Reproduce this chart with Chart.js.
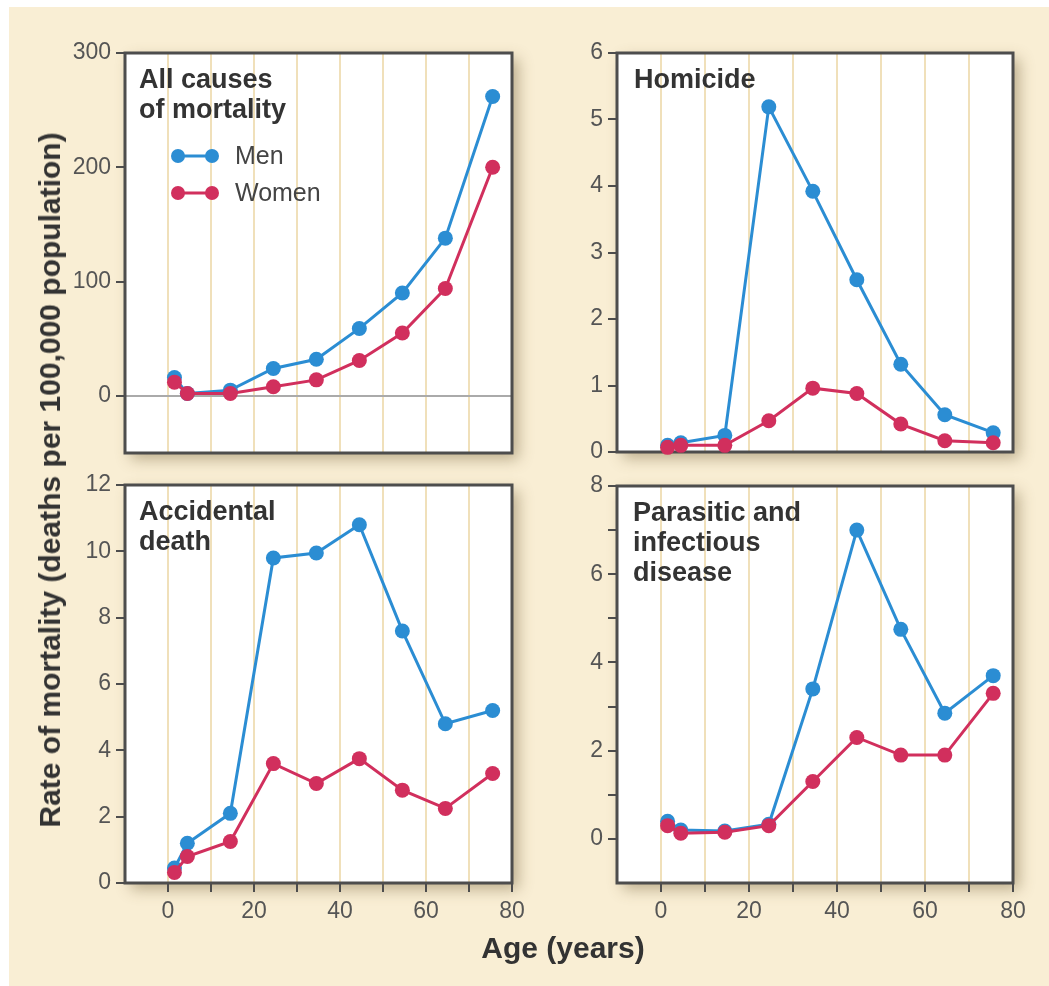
<!DOCTYPE html>
<html>
<head>
<meta charset="utf-8">
<script src="https://cdn.jsdelivr.net/npm/chart.js@4"></script>
<style>
  body { margin: 0; background: #ffffff; width: 1049px; height: 986px; position: relative; overflow: hidden; font-family: 'Liberation Sans', Arial, sans-serif; }
  #backdrop { position: absolute; left: 9px; top: 7px; width: 1040px; height: 979px; background: #f9eed4; }
  canvas { position: absolute; }
  .axis-title { position: absolute; font-weight: bold; font-size: 30px; color: #333; white-space: nowrap; }
</style>
</head>
<body>
<div id="backdrop"></div>
<canvas id="chart-all-causes" width="477" height="495" style="left:60px; top:28px;"></canvas>
<canvas id="chart-homicide" width="486" height="494" style="left:552px; top:28px;"></canvas>
<canvas id="chart-accidental" width="477" height="493" style="left:60px; top:460px;"></canvas>
<canvas id="chart-infectious" width="486" height="492" style="left:552px; top:461px;"></canvas>
<div class="axis-title" style="left:563px; top:948px; transform: translate(-50%, -50%);">Age (years)</div>
<div class="axis-title" style="left:50px; top:480px; transform: translate(-50%, -50%) rotate(-90deg);">Rate of mortality (deaths per 100,000 population)</div>

<script>
// age group midpoints (years)
const ages = [1.5, 4.5, 14.5, 24.5, 34.5, 44.5, 54.5, 64.5, 75.5];
const xTicks = [0, 10, 20, 30, 40, 50, 60, 70, 80];
const xLabels = [0, 20, 40, 60, 80];

const allCausesMen = [16, 2, 5, 24, 32, 59, 90, 138, 262];
const allCausesWomen = [12, 2, 2, 8, 14, 31, 55, 94, 200];
const allCausesTicks = [0, 100, 200, 300];

const homicideMen = [0.1, 0.14, 0.25, 5.19, 3.92, 2.59, 1.32, 0.56, 0.29];
const homicideWomen = [0.07, 0.1, 0.1, 0.47, 0.96, 0.88, 0.42, 0.17, 0.14];
const homicideTicks = [0, 1, 2, 3, 4, 5, 6];

const accidentalMen = [0.45, 1.2, 2.1, 9.8, 9.95, 10.8, 7.6, 4.8, 5.2];
const accidentalWomen = [0.32, 0.8, 1.25, 3.6, 3.0, 3.75, 2.8, 2.25, 3.3];
const accidentalTicks = [0, 2, 4, 6, 8, 10, 12];

const infectiousMen = [0.4, 0.2, 0.18, 0.33, 3.4, 7.0, 4.75, 2.85, 3.7];
const infectiousWomen = [0.3, 0.13, 0.15, 0.3, 1.3, 2.3, 1.9, 1.9, 3.3];
const infectiousTicks = [0, 1, 2, 3, 4, 5, 6, 7, 8];
const infectiousLabels = [0, 2, 4, 6, 8];

const MEN_COLOR = '#2b8dd3';
const WOMEN_COLOR = '#d12f5d';
const FONT = "'Liberation Sans', Arial, sans-serif";

// white plot box with a soft drop shadow, dark frame, panel heading and optional key
const panelDecor = {
    id: 'panelDecor',
    beforeDraw(chart) {
        const { ctx, chartArea: a } = chart;
        ctx.save();
        ctx.shadowColor = 'rgba(110, 90, 50, 0.45)';
        ctx.shadowBlur = 14;
        ctx.shadowOffsetX = 6;
        ctx.shadowOffsetY = 6;
        ctx.fillStyle = '#ffffff';
        ctx.fillRect(a.left, a.top, a.width, a.height);
        ctx.restore();
    },
    beforeDatasetsDraw(chart) {
        const { ctx, chartArea: a } = chart;
        ctx.save();
        ctx.strokeStyle = '#4d4d4d';
        ctx.lineWidth = 3;
        ctx.strokeRect(a.left, a.top, a.width, a.height);
        ctx.restore();
    },
    afterDraw(chart, args, opts) {
        const { ctx, chartArea: a } = chart;
        ctx.save();
        ctx.fillStyle = '#333333';
        ctx.font = 'bold 27px ' + FONT;
        ctx.textBaseline = 'alphabetic';
        (opts.lines || []).forEach((line, i) => {
            ctx.fillText(line, a.left + opts.indent, a.top + 35 + i * 30);
        });

        if (opts.showKey) {
            chart.data.datasets.forEach((ds, i) => {
                const y = a.top + 103 + i * 37;
                const x1 = a.left + 53;
                const x2 = a.left + 87;
                ctx.strokeStyle = ds.borderColor;
                ctx.fillStyle = ds.borderColor;
                ctx.lineWidth = 3;
                ctx.beginPath();
                ctx.moveTo(x1, y);
                ctx.lineTo(x2, y);
                ctx.stroke();
                [x1, x2].forEach(x => {
                    ctx.beginPath();
                    ctx.arc(x, y, 7, 0, Math.PI * 2);
                    ctx.fill();
                });
                ctx.fillStyle = '#444444';
                ctx.font = '25px ' + FONT;
                ctx.textBaseline = 'middle';
                ctx.fillText(ds.label, a.left + 110, y + 1);
            });
        }
        ctx.restore();
    }
};

function toPoints(values) {
    return values.map((v, i) => ({ x: ages[i], y: v }));
}

function createPanelChart(canvasId, settings) {
    const ctx = document.getElementById(canvasId).getContext('2d');
    return new Chart(ctx, {
        type: 'line',
        data: {
            datasets: [{
                label: 'Men',
                data: toPoints(settings.men),
                borderColor: MEN_COLOR,
                backgroundColor: MEN_COLOR,
                pointBackgroundColor: MEN_COLOR,
                borderWidth: 3,
                pointRadius: 7.5,
                pointBorderWidth: 0,
                order: 2,
                clip: false
            }, {
                label: 'Women',
                data: toPoints(settings.women),
                borderColor: WOMEN_COLOR,
                backgroundColor: WOMEN_COLOR,
                pointBackgroundColor: WOMEN_COLOR,
                borderWidth: 3,
                pointRadius: 7.5,
                pointBorderWidth: 0,
                order: 1,
                clip: false
            }]
        },
        options: {
            responsive: false,
            animation: false,
            devicePixelRatio: 1,
            layout: { padding: { top: 25, right: 25, left: 0, bottom: 0 } },
            plugins: {
                legend: { display: false },
                tooltip: { enabled: false },
                panelDecor: {
                    lines: settings.title,
                    indent: settings.indent,
                    showKey: settings.showKey || false
                }
            },
            scales: {
                x: {
                    type: 'linear',
                    min: -10,
                    max: 80,
                    afterBuildTicks: scale => { scale.ticks = xTicks.map(v => ({ value: v })); },
                    afterFit: scale => { scale.height = 70; },
                    ticks: {
                        display: settings.showAges,
                        autoSkip: false,
                        maxRotation: 0,
                        padding: 6,
                        color: '#555555',
                        font: { family: FONT, size: 23 },
                        callback: value => xLabels.includes(value) ? value : ''
                    },
                    grid: {
                        color: c => (c.tick && c.tick.value < 80) ? '#f0e0ba' : 'transparent',
                        lineWidth: 2,
                        drawTicks: settings.showAges,
                        tickLength: 9,
                        tickColor: '#4d4d4d',
                        tickWidth: 2
                    },
                    border: { display: false }
                },
                y: {
                    type: 'linear',
                    min: settings.yMin,
                    max: settings.yMax,
                    afterBuildTicks: scale => { scale.ticks = settings.yTicks.map(v => ({ value: v })); },
                    afterFit: scale => { scale.width = 65; },
                    ticks: {
                        autoSkip: false,
                        padding: 5,
                        color: '#555555',
                        font: { family: FONT, size: 23 },
                        callback: value => (settings.yLabels || settings.yTicks).includes(value) ? value : ''
                    },
                    grid: {
                        color: c => (settings.zeroLine && c.tick && c.tick.value === 0) ? '#aaaaaa' : 'transparent',
                        lineWidth: 2,
                        tickLength: 9,
                        tickColor: '#4d4d4d',
                        tickWidth: 2
                    },
                    border: { display: false }
                }
            }
        },
        plugins: [panelDecor]
    });
}

document.addEventListener('DOMContentLoaded', () => {
    createPanelChart('chart-all-causes', {
        men: allCausesMen,
        women: allCausesWomen,
        yMin: -50,
        yMax: 300,
        yTicks: allCausesTicks,
        zeroLine: true,
        title: ['All causes', 'of mortality'],
        indent: 14,
        showKey: true,
        showAges: false
    });

    createPanelChart('chart-homicide', {
        men: homicideMen,
        women: homicideWomen,
        yMin: 0,
        yMax: 6,
        yTicks: homicideTicks,
        title: ['Homicide'],
        indent: 17,
        showAges: false
    });

    createPanelChart('chart-accidental', {
        men: accidentalMen,
        women: accidentalWomen,
        yMin: 0,
        yMax: 12,
        yTicks: accidentalTicks,
        title: ['Accidental', 'death'],
        indent: 14,
        showAges: true
    });

    createPanelChart('chart-infectious', {
        men: infectiousMen,
        women: infectiousWomen,
        yMin: -1,
        yMax: 8,
        yTicks: infectiousTicks,
        yLabels: infectiousLabels,
        title: ['Parasitic and', 'infectious', 'disease'],
        indent: 16,
        showAges: true
    });
});
</script>
</body>
</html>
